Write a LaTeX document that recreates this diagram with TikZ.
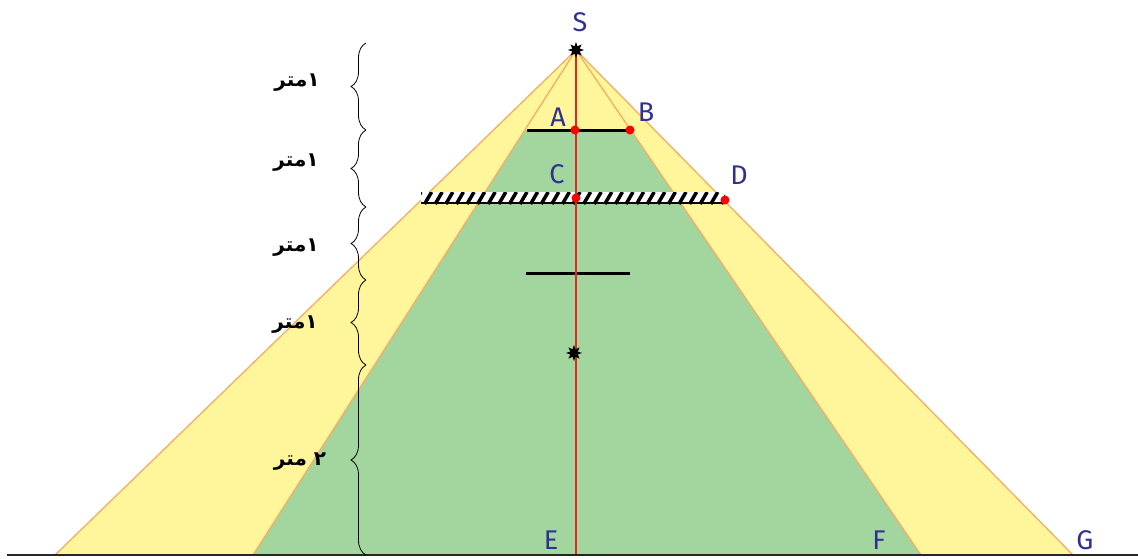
\documentclass[tikz,border=0pt]{standalone}
\usepackage{fontspec}
\usepackage{tikz}
\usetikzlibrary{decorations.pathreplacing,shapes.geometric}
\TeXXeTstate=1
\newfontfamily\arabicfont[Script=Arabic]{DejaVu Sans}
\newfontfamily\letterfont{Fira Sans}
\definecolor{coneyellow}{HTML}{FFF59A}
\definecolor{conegreen}{HTML}{A3D59E}
\definecolor{coneedge}{HTML}{F4AE66}
\definecolor{rayred}{HTML}{E8251F}
\definecolor{labelblue}{HTML}{2E3192}

\begin{document}
\begin{tikzpicture}[x=1pt, y=-1pt, every node/.style={inner sep=0pt},
	ptlabel/.style={text=labelblue, font=\letterfont\fontsize{27}{27}\selectfont},
	meter/.style={font=\arabicfont\bfseries\fontsize{20}{20}\selectfont},
	metbrace/.style={decorate, decoration={brace, amplitude=15pt}, line width=0.8pt},
	reddot/.style={circle, fill=red, minimum size=9pt},
	source/.style={star, star points=8, star point ratio=2, fill=black, minimum size=16pt}]
	\useasboundingbox (0,0) rectangle (1138,558);
	% cone corners
	\coordinate (S) at (576,50);
	\coordinate (yl) at (55,555);
	\coordinate (yr) at (1073,555);
	\coordinate (gl) at (253,555);
	\coordinate (gr) at (921,555);
	\coordinate (foot) at (576,555);
	\fill[coneyellow] (S) -- (yl) -- (yr) -- cycle;
	\fill[conegreen] (525,130) -- (631,130) -- (gr) -- (gl) -- cycle;
	\draw[coneedge, line width=1.3pt] (yl) -- (S) -- (yr) (gl) -- (S) -- (gr);
	% hatched screen
	\begin{scope}
		\clip (421,192) rectangle (725,204);
		\fill[white] (421,192) rectangle (725,204);
		\foreach \i in {0,...,29}
			\draw[line width=3.5pt] ({414+10.6*\i},204) -- ({421+10.6*\i},192);
	\end{scope}
	\draw[line width=1.5pt] (421,203) -- (725,203);
	% black bars
	\coordinate (abL) at (527,130);
	\coordinate (abR) at (630,130);
	\coordinate (barL) at (526,273);
	\coordinate (barR) at (630,273);
	\draw[line width=3pt] (abL) -- (abR);
	\draw[line width=3pt] (barL) -- (barR);
	\draw[rayred, line width=1.5pt] (S) -- (foot);
	\draw[black!85, line width=2pt] (7,555) -- (1138,555);
	\node[source] (src) at (S) {};
	\node[source] (img) at (574,353) {};
	\node[reddot] (dotA) at (575,130) {};
	\node[reddot] (dotB) at (630,130) {};
	\node[reddot] (dotC) at (576,198) {};
	\node[reddot] (dotD) at (725,200) {};
	\node[ptlabel] (lS) at (580,22) {S};
	\node[ptlabel] (lA) at (558,117) {A};
	\node[ptlabel] (lB) at (646,112) {B};
	\node[ptlabel] (lC) at (557,174) {C};
	\node[ptlabel] (lD) at (739,175) {D};
	\node[ptlabel] (lE) at (551,540) {E};
	\node[ptlabel] (lF) at (879,540) {F};
	\node[ptlabel] (lG) at (1085,540) {G};
	% distance braces
	\coordinate (h0) at (366,43);
	\coordinate (h1) at (366,130);
	\coordinate (h2) at (366,207);
	\coordinate (h3) at (366,280);
	\coordinate (h4) at (366,365);
	\coordinate (h5) at (366,555);
	\draw[metbrace] (h1) -- (h0);
	\draw[metbrace] (h2) -- (h1);
	\draw[metbrace] (h3) -- (h2);
	\draw[metbrace] (h4) -- (h3);
	\draw[metbrace] (h5) -- (h4);
	\node[meter] (m1) at (297,83) {\beginR ١متر\endR};
	\node[meter] (m2) at (296,163) {\beginR ١متر\endR};
	\node[meter] (m3) at (296,248) {\beginR ١متر\endR};
	\node[meter] (m4) at (295,325) {\beginR ١متر\endR};
	\node[meter] (m5) at (300,462) {\beginR ٢ متر\endR};
\end{tikzpicture}
\end{document}
